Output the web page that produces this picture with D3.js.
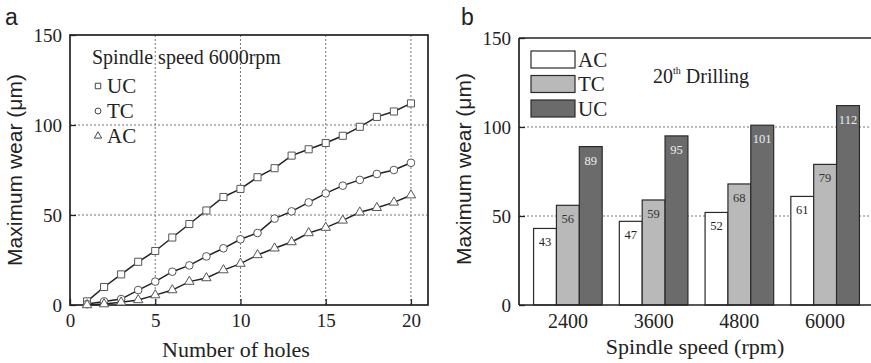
<!DOCTYPE html>
<html>
<head>
<meta charset="utf-8">
<script src="https://cdn.jsdelivr.net/npm/d3@7"></script>
<style>
  body { margin: 0; background: #fff; }
  svg { display: block; }
  text { fill: #222; }
</style>
</head>
<body>
<div id="chart"></div>
<script>
// panel a: wear vs number of holes (6000 rpm)
var holes = [1,2,3,4,5,6,7,8,9,10,11,12,13,14,15,16,17,18,19,20];
var ucWear = [2,10,17,24,30,37.5,45,52.5,60,64.5,71,76,83,86.5,90,94,99,104.5,107.5,112];
var tcWear = [0.5,2,3.3,8.3,13,18.5,22,27,31.5,36.5,40,48,52,57,62,66.3,69.5,72.8,75,79];
var acWear = [0,0.5,1.5,2.8,5.5,8.3,13,15,19.4,23,27.8,31.5,35,40,43,47,51.5,54,57,61];
var xTicksA = [0,5,10,15,20];
var yTicks = [0,50,100,150];

// panel b: wear at 20th drilling vs spindle speed
var speeds = ["2400","3600","4800","6000"];
var coatings = ["AC","TC","UC"];
var acBar = [43,47,52,61];
var tcBar = [56,59,68,79];
var ucBar = [89,95,101,112];

var W = 871, H = 363;
var serif = "'Liberation Serif', 'DejaVu Serif', serif";
var sans = "'Liberation Sans', Arial, sans-serif";

var svg = d3.select("#chart").append("svg")
    .attr("width", W)
    .attr("height", H);

// ---------- panel a ----------
var ax = {left: 70, right: 428, top: 35, bottom: 305};
var x = d3.scaleLinear().domain([0, 21]).range([ax.left, ax.right]);
var y = d3.scaleLinear().domain([0, 150]).range([ax.bottom, ax.top]);

var ga = svg.append("g");

// dotted grid
ga.selectAll(".vgrid").data([5,10,15,20]).enter().append("line")
    .attr("x1", function(d) { return x(d); }).attr("x2", function(d) { return x(d); })
    .attr("y1", ax.top).attr("y2", ax.bottom)
    .attr("stroke", "#777").attr("stroke-width", 1).attr("stroke-dasharray", "2,2");
ga.selectAll(".hgrid").data([50,100]).enter().append("line")
    .attr("x1", ax.left).attr("x2", ax.right)
    .attr("y1", function(d) { return y(d); }).attr("y2", function(d) { return y(d); })
    .attr("stroke", "#777").attr("stroke-width", 1).attr("stroke-dasharray", "2,2");

// axes with inward ticks
ga.append("g")
    .attr("transform", "translate(0," + ax.bottom + ")")
    .call(d3.axisBottom(x).tickValues(xTicksA).tickSizeInner(-6).tickSizeOuter(0).tickPadding(9))
    .call(function(g) { g.select(".domain").remove(); })
    .selectAll("text").style("font-family", serif).style("font-size", "19px").attr("fill", "#222");
ga.append("g")
    .attr("transform", "translate(" + ax.left + ",0)")
    .call(d3.axisLeft(y).tickValues(yTicks).tickSizeInner(-6).tickSizeOuter(0).tickPadding(8))
    .call(function(g) { g.select(".domain").remove(); })
    .selectAll("text").style("font-family", serif).style("font-size", "19px").attr("fill", "#222");
ga.selectAll(".tick line").attr("stroke", "#222").attr("stroke-width", 1.3);

ga.append("rect")
    .attr("x", ax.left).attr("y", ax.top)
    .attr("width", ax.right - ax.left).attr("height", ax.bottom - ax.top)
    .attr("fill", "none").attr("stroke", "#222").attr("stroke-width", 1.7);

var line = d3.line()
    .x(function(d, i) { return x(holes[i]); })
    .y(function(d) { return y(d); });

var seriesA = [
  {key: "UC", values: ucWear, shape: d3.symbolSquare, size: 50},
  {key: "TC", values: tcWear, shape: d3.symbolCircle, size: 46},
  {key: "AC", values: acWear, shape: d3.symbolTriangle, size: 38}
];

seriesA.forEach(function(s) {
  ga.append("path")
      .datum(s.values)
      .attr("d", line)
      .attr("fill", "none")
      .attr("stroke", "#222")
      .attr("stroke-width", 1.5);
  ga.selectAll(".m" + s.key).data(s.values).enter().append("path")
      .attr("transform", function(d, i) { return "translate(" + x(holes[i]) + "," + y(d) + ")"; })
      .attr("d", d3.symbol().type(s.shape).size(s.size))
      .attr("fill", "#fff")
      .attr("stroke", "#555")
      .attr("stroke-width", 1);
});

// legend a
ga.append("text").attr("x", 92).attr("y", 64)
    .style("font-family", serif).style("font-size", "20px")
    .text("Spindle speed 6000rpm");
seriesA.forEach(function(s, i) {
  var ly = 86 + i * 25;
  ga.append("path")
      .attr("transform", "translate(98," + ly + ")")
      .attr("d", d3.symbol().type(s.shape).size(s.size * 0.6))
      .attr("fill", "#fff").attr("stroke", "#444").attr("stroke-width", 1);
  ga.append("text").attr("x", 107).attr("y", ly + 6.5)
      .style("font-family", serif).style("font-size", "21px")
      .text(s.key);
});

// axis titles a
ga.append("text")
    .attr("x", 236).attr("y", 357)
    .attr("text-anchor", "middle")
    .style("font-family", serif).style("font-size", "22px")
    .text("Number of holes");
ga.append("text")
    .attr("transform", "translate(22,170) rotate(-90)")
    .attr("text-anchor", "middle")
    .style("font-family", sans).style("font-size", "21px")
    .text("Maximum wear (\u03bcm)");
ga.append("text").attr("x", 5).attr("y", 25)
    .style("font-family", sans).style("font-size", "23px")
    .text("a");

// ---------- panel b ----------
var bx = {left: 519, right: 874, top: 38, bottom: 305};
var x0 = d3.scaleBand().domain(speeds).range([bx.left, bx.right])
    .paddingInner(0.2).paddingOuter(0.17);
var x1 = d3.scaleBand().domain(coatings).range([0, x0.bandwidth()]);
var yb = d3.scaleLinear().domain([0, 150]).range([bx.bottom, bx.top]);
var fill = d3.scaleOrdinal().domain(coatings).range(["#ffffff", "#b9b9b9", "#6b6b6b"]);
var labelFill = d3.scaleOrdinal().domain(coatings).range(["#222", "#333", "#eee"]);

var gb = svg.append("g");

gb.selectAll(".hgridb").data([50,100]).enter().append("line")
    .attr("x1", bx.left).attr("x2", bx.right)
    .attr("y1", function(d) { return yb(d); }).attr("y2", function(d) { return yb(d); })
    .attr("stroke", "#777").attr("stroke-width", 1).attr("stroke-dasharray", "2,2");

gb.append("g")
    .attr("transform", "translate(" + bx.left + ",0)")
    .call(d3.axisLeft(yb).tickValues(yTicks).tickSizeInner(-6).tickSizeOuter(0).tickPadding(8))
    .call(function(g) { g.select(".domain").remove(); })
    .selectAll("text").style("font-family", serif).style("font-size", "19px").attr("fill", "#222");
gb.append("g")
    .attr("transform", "translate(0," + bx.bottom + ")")
    .call(d3.axisBottom(x0).tickSize(0).tickPadding(9))
    .call(function(g) { g.select(".domain").remove(); })
    .selectAll("text").style("font-family", serif).style("font-size", "20px").attr("fill", "#222");
gb.selectAll(".tick line").attr("stroke", "#222").attr("stroke-width", 1.3);

var barRows = speeds.map(function(s, i) {
  return [
    {speed: s, key: "AC", value: acBar[i]},
    {speed: s, key: "TC", value: tcBar[i]},
    {speed: s, key: "UC", value: ucBar[i]}
  ];
});

var groups = gb.selectAll(".grp").data(barRows).enter().append("g")
    .attr("transform", function(d) { return "translate(" + x0(d[0].speed) + ",0)"; });

groups.selectAll("rect").data(function(d) { return d; }).enter().append("rect")
    .attr("x", function(d) { return x1(d.key); })
    .attr("y", function(d) { return yb(d.value); })
    .attr("width", x1.bandwidth())
    .attr("height", function(d) { return yb(0) - yb(d.value); })
    .attr("fill", function(d) { return fill(d.key); })
    .attr("stroke", "#2a2a2a")
    .attr("stroke-width", 1.2);

groups.selectAll(".lbl").data(function(d) { return d; }).enter().append("text")
    .attr("x", function(d) { return x1(d.key) + x1.bandwidth() / 2; })
    .attr("y", function(d) { return yb(d.value) + 18; })
    .attr("text-anchor", "middle")
    .style("font-family", serif).style("font-size", "12.5px")
    .style("fill", function(d) { return labelFill(d.key); })
    .text(function(d) { return d.value; });

gb.append("line")
    .attr("x1", bx.left).attr("x2", bx.right).attr("y1", bx.top).attr("y2", bx.top)
    .attr("stroke", "#222").attr("stroke-width", 1.7);
gb.append("line")
    .attr("x1", bx.left).attr("x2", bx.right).attr("y1", bx.bottom).attr("y2", bx.bottom)
    .attr("stroke", "#222").attr("stroke-width", 1.7);
gb.append("line")
    .attr("x1", bx.left).attr("x2", bx.left).attr("y1", bx.top).attr("y2", bx.bottom)
    .attr("stroke", "#222").attr("stroke-width", 1.7);

// legend b
coatings.forEach(function(c, i) {
  var ly = 51 + i * 24.5;
  gb.append("rect").attr("x", 531).attr("y", ly).attr("width", 44).attr("height", 17)
      .attr("fill", fill(c)).attr("stroke", "#2a2a2a").attr("stroke-width", 1.2);
  gb.append("text").attr("x", 578).attr("y", ly + 15.5)
      .style("font-family", serif).style("font-size", "21px")
      .text(c);
});

var note = gb.append("text").attr("x", 653).attr("y", 83)
    .style("font-family", serif).style("font-size", "20px");
note.append("tspan").text("20");
note.append("tspan").attr("dy", -9).style("font-size", "10px").text("th");
note.append("tspan").attr("dy", 9).text(" Drilling");

gb.append("text")
    .attr("x", 695).attr("y", 354)
    .attr("text-anchor", "middle")
    .style("font-family", serif).style("font-size", "22px")
    .text("Spindle speed (rpm)");
gb.append("text")
    .attr("transform", "translate(471,169) rotate(-90)")
    .attr("text-anchor", "middle")
    .style("font-family", sans).style("font-size", "21px")
    .text("Maximum wear (\u03bcm)");
gb.append("text").attr("x", 461).attr("y", 25)
    .style("font-family", sans).style("font-size", "23px")
    .text("b");
</script>
</body>
</html>
